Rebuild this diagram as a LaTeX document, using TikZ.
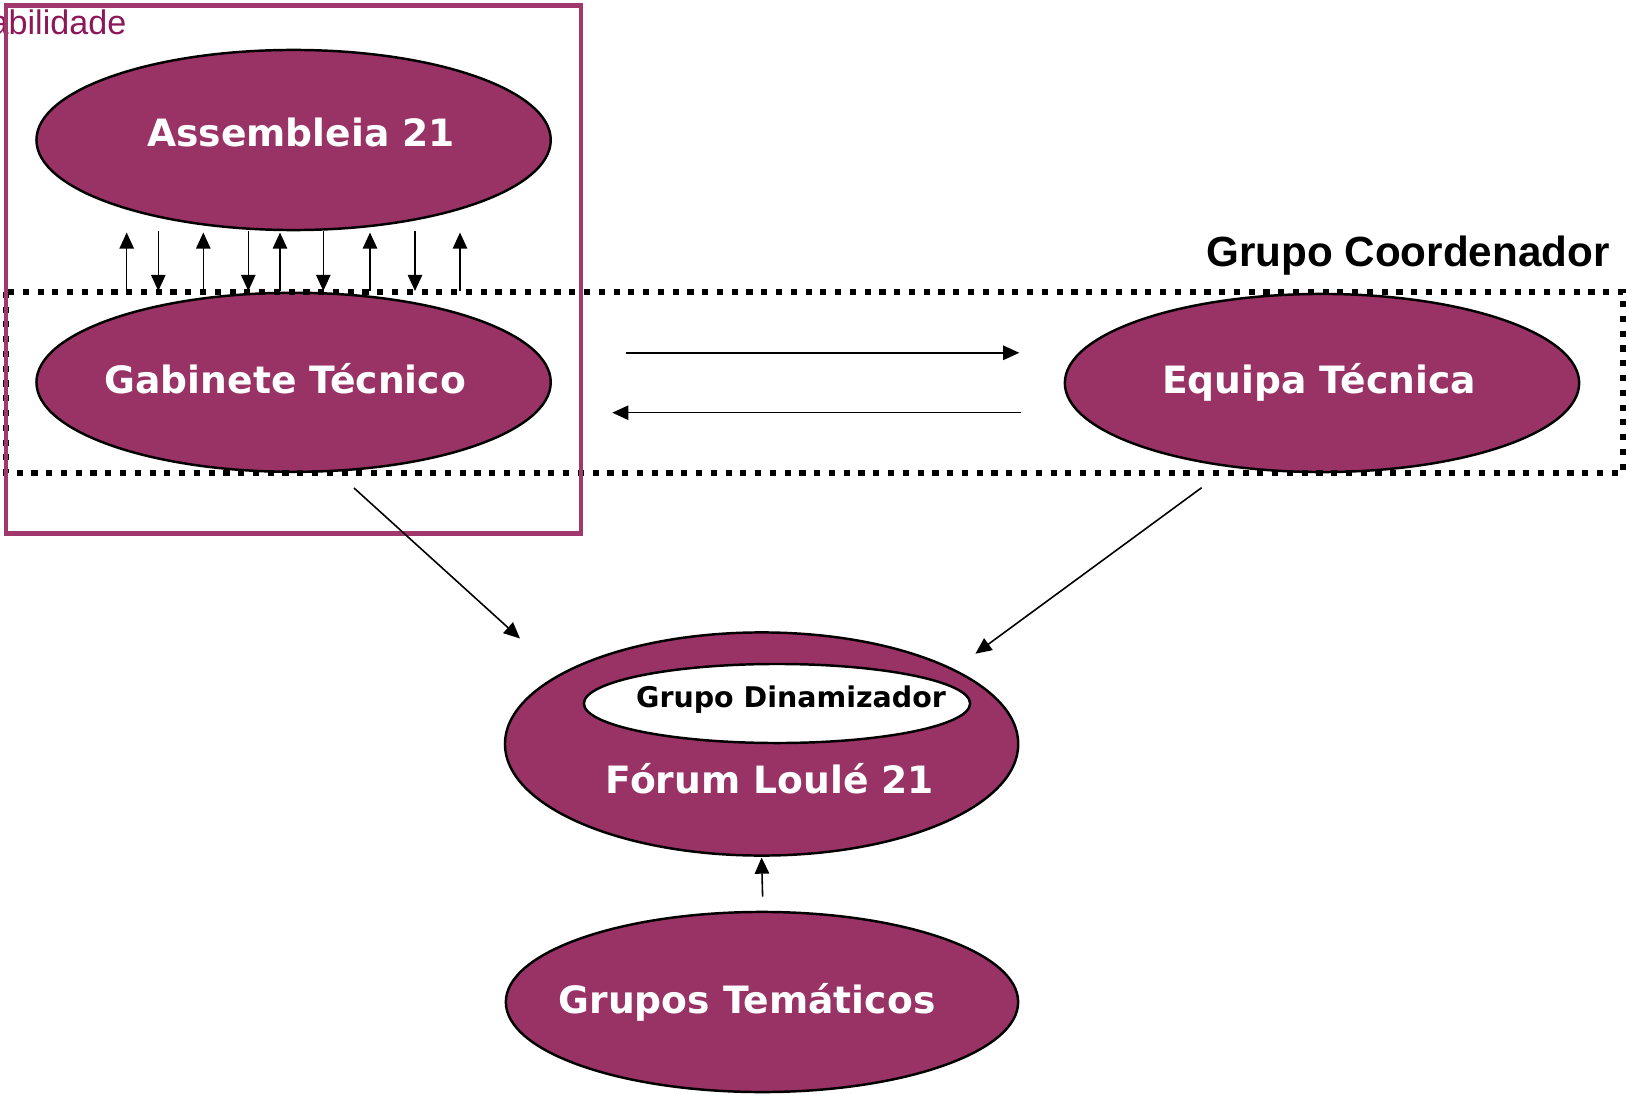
\documentclass[tikz,border=0pt]{standalone}
\usepackage{fontspec}
\setmainfont{DejaVu Sans}
\newfontfamily\lsans{Liberation Sans}
\usetikzlibrary{shapes.geometric,arrows.meta}
\definecolor{plum}{RGB}{153,51,102}
\definecolor{plumline}{RGB}{160,56,110}
\definecolor{plumtext}{RGB}{140,24,90}
\begin{document}
\begin{tikzpicture}[x=0.01cm,y=-0.01cm,
 blob/.style={ellipse, draw=black, line width=0.7pt, fill=plum, inner sep=0pt},
 lbl/.style={text=white, font=\fontsize{10.7}{12}\selectfont\bfseries, inner sep=0pt, anchor=base},
 conn/.style={line width=0.45pt, -{Triangle[length=4.6pt,width=4.1pt]}},
 dotbox/.style={line width=1.75pt, dash pattern=on 1.75pt off 2.45pt, line cap=butt},
 respbox/.style={draw=plumline, line width=1.3pt},
]
\useasboundingbox (0,0) rectangle (1627,1094);
\begin{scope}
\clip (0,0) rectangle (1627,1094);
% ellipses
\node[blob, minimum width=5.14cm, minimum height=1.80cm] (asm) at (293.6,140) {};
\node[blob, minimum width=5.14cm, minimum height=1.79cm] (gab) at (293.6,382.3) {};
\node[blob, minimum width=5.14cm, minimum height=1.78cm] (equ) at (1322,383) {};
\node[blob, minimum width=5.13cm, minimum height=2.23cm] (forum) at (761.6,744) {};
\node[ellipse, draw=black, line width=0.7pt, fill=white, inner sep=0pt, minimum width=3.86cm, minimum height=0.79cm] (dina) at (777,703.5) {};
\node[blob, minimum width=5.12cm, minimum height=1.80cm] (grupos) at (762,1002) {};
% labels
\node[lbl] (tasm) at (301,146.5) {Assembleia 21};
\node[lbl] (tgab) at (285.3,393.4) {Gabinete Técnico};
\node[lbl] (tequ) at (1319,393.4) {Equipa Técnica};
\node[lbl] (tforum) at (770,793.8) {Fórum Loulé 21};
\node[lbl] (tgrupos) at (747,1013.3) {Grupos Temáticos};
\node[inner sep=0pt, anchor=base, font=\fontsize{8.1}{10}\selectfont\bfseries] (tdina) at (791,707.3) {Grupo Dinamizador};
\node[inner sep=0pt, anchor=base, font=\lsans\fontsize{12}{14}\selectfont\bfseries] (tcoord) at (1408,267) {Grupo Coordenador};
\node[inner sep=0pt, anchor=base east, text=plumtext, font=\lsans\fontsize{9.7}{11}\selectfont] (tresp) at (127,34.5) {abilidade};
% frames
\draw[dotbox] (5.8,291.8) rectangle (1623.3,473);
\draw[respbox] (6,5.4) rectangle (581,533.3);
% vertical arrows between Assembleia and Gabinete
\foreach \i/\x in {1/126.7,3/203.3,5/280,7/370,9/460}{
  \coordinate (ua\i) at (\x,291);
  \coordinate (ub\i) at (\x,232.5);
  \draw[conn] (ua\i) -- (ub\i);
}
\foreach \i/\x in {2/158.3,4/248.3,6/323.3,8/415}{
  \coordinate (da\i) at (\x,231);
  \coordinate (db\i) at (\x,291);
  \draw[conn] (da\i) -- (db\i);
}
% horizontal arrows
\coordinate (h1a) at (625.7,352.8);
\coordinate (h1b) at (1019.3,352.8);
\coordinate (h2a) at (1020.7,412.7);
\coordinate (h2b) at (612.3,412.7);
\draw[conn] (h1a) -- (h1b);
\draw[conn] (h2a) -- (h2b);
% diagonal arrows
\coordinate (g1) at (354,488);
\coordinate (g2) at (520,638.5);
\coordinate (e1) at (1201.6,487.7);
\coordinate (e2) at (975.4,653.7);
\draw[conn] (g1) -- (g2);
\draw[conn] (e1) -- (e2);
% Grupos to Forum
\coordinate (v1) at (762.6,896.6);
\coordinate (v2) at (761.6,857.5);
\draw[conn] (v1) -- (v2);
\end{scope}
\end{tikzpicture}
\end{document}
